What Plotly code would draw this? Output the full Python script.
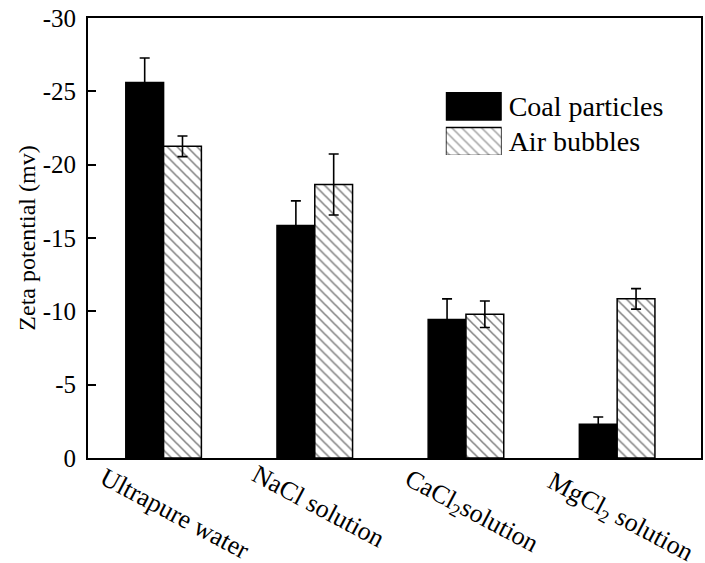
import plotly.graph_objects as go

# Zeta potential of coal particles and air bubbles in different solutions
categories = ["Ultrapure water", "NaCl solution", "CaCl2 solution", "MgCl2 solution"]
category_labels = ["Ultrapure water", "NaCl solution",
                   "CaCl<sub>2</sub>solution", "MgCl<sub>2</sub> solution"]
series_names = ["Coal particles", "Air bubbles"]
coal_zeta = [-25.6, -15.85, -9.45, -2.3]
coal_err = [1.67, 1.68, 1.4, 0.5]
bubble_zeta = [-21.25, -18.65, -9.8, -10.85]
bubble_err = [0.7, 2.08, 0.9, 0.7]
y_tick_vals = [0, -5, -10, -15, -20, -25, -30]
y_tick_text = ["0", "-5", "-10", "-15", "-20", "-25", "-30"]

FONT = "Liberation Serif, Times New Roman, serif"
HATCH = dict(shape="\\", size=7, solidity=0.22, fgcolor="black", bgcolor="white")

fig = go.Figure()

fig.add_trace(go.Bar(
    x=categories, y=coal_zeta, name=series_names[0],
    marker=dict(color="black", line=dict(color="black", width=1.5)),
    error_y=dict(type="data", array=coal_err, color="black", thickness=1.6, width=5),
    showlegend=False,
))
fig.add_trace(go.Bar(
    x=categories, y=bubble_zeta, name=series_names[1],
    marker=dict(color="white", line=dict(color="black", width=1.5), pattern=HATCH),
    error_y=dict(type="data", array=bubble_err, color="black", thickness=1.6, width=5),
    showlegend=False,
))

# Legend drawn as a small horizontal bar chart on its own axes
fig.add_trace(go.Bar(
    x=[1, 1], y=series_names, orientation="h", width=0.79,
    xaxis="x2", yaxis="y2", showlegend=False, hoverinfo="skip",
    marker=dict(
        color=["black", "white"],
        line=dict(color="black", width=1.5),
        pattern=dict(shape=["", "\\"], size=7, solidity=0.22,
                     fgcolor="black", bgcolor="white"),
    ),
))

# Rotated category labels under the axis
label_shift = [(11, -55), (4, -48), (5, -54), (3, -60)]
for cat, lab, (dx, dy) in zip(categories, category_labels, label_shift):
    fig.add_annotation(
        x=cat, xref="x", y=0, yref="paper", text=lab, showarrow=False,
        textangle=28, xanchor="center", yanchor="middle",
        xshift=dx, yshift=dy, font=dict(family=FONT, size=26, color="black"),
    )

fig.update_layout(
    width=705, height=563,
    margin=dict(l=88, r=2, t=18, b=105),
    paper_bgcolor="white", plot_bgcolor="white",
    barmode="group", bargap=0.5, bargroupgap=0,
    font=dict(family=FONT, size=24, color="black"),
    xaxis=dict(
        showticklabels=False, ticks="", showgrid=False, zeroline=False,
        showline=True, linecolor="black", linewidth=2, mirror=True,
    ),
    yaxis=dict(
        range=[0, -30], tickvals=y_tick_vals, ticktext=y_tick_text,
        ticks="inside", ticklen=8, tickwidth=2, tickcolor="black",
        showgrid=False, zeroline=False,
        showline=True, linecolor="black", linewidth=2, mirror=True,
        ticklabelstandoff=5,
        tickfont=dict(family=FONT, size=25),
        title=dict(text="Zeta potential (mv)", standoff=0,
                   font=dict(family=FONT, size=24, color="black")),
    ),
    xaxis2=dict(
        domain=[0.5837, 0.6748], range=[0, 1], anchor="y2",
        showticklabels=False, showgrid=False, zeroline=False, showline=False,
        fixedrange=True,
    ),
    yaxis2=dict(
        domain=[0.6886, 0.8318], range=[1.38, -0.394], anchor="x2",
        side="right", ticks="", showgrid=False, zeroline=False, showline=False,
        ticklabelstandoff=6, tickfont=dict(family=FONT, size=28),
        fixedrange=True,
    ),
)

fig.write_html("out.html")
